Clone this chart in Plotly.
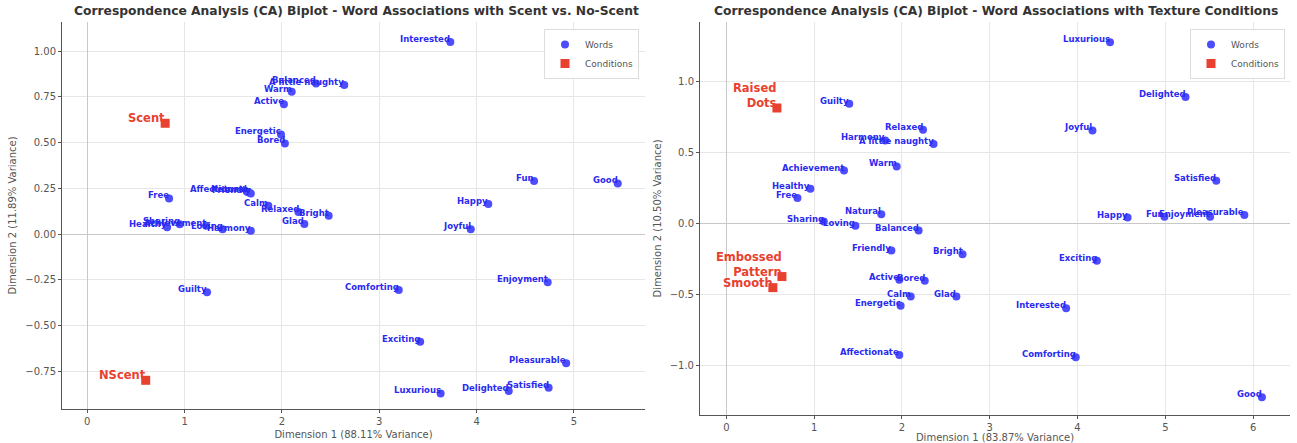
import plotly.graph_objects as go

# ---- Scent vs. No-Scent ----
scent_words = ["Interested", "Fun", "Good", "Happy", "Joyful", "Enjoyment", "Comforting",
               "Exciting", "Pleasurable", "Luxurious", "Delighted", "Satisfied", "Guilty",
               "Warm", "Active", "Energetic", "Bored", "A little naughty", "Balanced", "Free",
               "Affectionate", "Natural", "Friendly", "Calm", "Relaxed", "Bright", "Glad",
               "Healthy", "Sharing", "Achievement", "Loving", "Harmony"]
scent_x = [3.73, 4.59, 5.45, 4.12, 3.94, 4.73, 3.20,
           3.42, 4.92, 3.63, 4.33, 4.74, 1.23,
           2.10, 2.02, 1.99, 2.03, 2.64, 2.35, 0.84,
           1.66, 1.64, 1.68, 1.86, 2.17, 2.48, 2.23,
           0.82, 0.95, 1.22, 1.39, 1.68]
scent_y = [1.05, 0.29, 0.277, 0.164, 0.026, -0.264, -0.306,
           -0.589, -0.707, -0.872, -0.859, -0.841, -0.319,
           0.778, 0.71, 0.545, 0.496, 0.815, 0.824, 0.195,
           0.228, 0.232, 0.222, 0.155, 0.12, 0.10, 0.055,
           0.037, 0.053, 0.045, 0.026, 0.018]
scent_conditions = ["Scent", "NScent"]
scent_cond_x = [0.80, 0.60]
scent_cond_y = [0.606, -0.80]

# ---- Texture conditions ----
texture_words = ["Luxurious", "Delighted", "Joyful", "Satisfied", "Happy", "Fun", "Enjoyment",
                 "Pleasurable", "Good", "Exciting", "Interested", "Comforting", "Guilty",
                 "Relaxed", "A little naughty", "Harmony", "Achievement", "Warm", "Healthy",
                 "Free", "Natural", "Sharing", "Loving", "Balanced", "Friendly", "Bright",
                 "Active", "Bored", "Calm", "Glad", "Energetic", "Affectionate"]
texture_x = [4.37, 5.23, 4.17, 5.58, 4.57, 4.99, 5.51,
             5.90, 6.10, 4.22, 3.87, 3.98, 1.40,
             2.24, 2.36, 1.81, 1.34, 1.94, 0.957,
             0.81, 1.765, 1.11, 1.47, 2.19, 1.88, 2.69,
             1.97, 2.26, 2.10, 2.62, 1.985, 1.97]
texture_y = [1.277, 0.892, 0.657, 0.303, 0.044, 0.05, 0.05,
             0.063, -1.22, -0.26, -0.594, -0.939, 0.845,
             0.662, 0.561, 0.587, 0.375, 0.404, 0.246,
             0.181, 0.068, 0.016, -0.014, -0.047, -0.188, -0.214,
             -0.394, -0.401, -0.512, -0.512, -0.577, -0.923]
texture_conditions = ["Raised<br>Dots", "Embossed<br>Pattern", "Smooth"]
texture_cond_x = [0.576, 0.633, 0.53]
texture_cond_y = [0.815, -0.371, -0.449]

BLUE_MARK = "#4d4dff"
BLUE_TEXT = "#2a2af0"
RED = "#e8412f"
FONT = "DejaVu Sans"
W, H = 1297, 443

fig = go.Figure()


def add_panel(words, wx, wy, conds, cx, cy, xa, ya, legend):
    fig.add_trace(go.Scatter(
        x=wx, y=wy, mode="markers", name="Words", xaxis=xa, yaxis=ya, legend=legend,
        marker=dict(color=BLUE_MARK, size=8, symbol="circle", line=dict(width=0)),
        hoverinfo="skip"))
    fig.add_trace(go.Scatter(
        x=cx, y=cy, mode="markers", name="Conditions", xaxis=xa, yaxis=ya, legend=legend,
        marker=dict(color=RED, size=9, symbol="square", line=dict(width=0)),
        hoverinfo="skip"))
    for t, x, y in zip(words, wx, wy):
        fig.add_annotation(x=x, y=y, xref=xa, yref=ya, text=t, showarrow=False,
                           xanchor="right", yanchor="bottom", borderpad=0,
                           xshift=1, yshift=-3,
                           font=dict(family=FONT, size=8.5, color=BLUE_TEXT, weight="bold"))
    for t, x, y in zip(conds, cx, cy):
        fig.add_annotation(x=x, y=y, xref=xa, yref=ya, text=t, showarrow=False,
                           xanchor="right", yanchor="bottom", align="right", borderpad=0,
                           xshift=1, yshift=-3,
                           font=dict(family=FONT, size=11.5, color=RED, weight="bold"))


add_panel(scent_words, scent_x, scent_y, scent_conditions, scent_cond_x, scent_cond_y,
          "x", "y", "legend")
add_panel(texture_words, texture_x, texture_y, texture_conditions, texture_cond_x,
          texture_cond_y, "x2", "y2", "legend2")

axis_common = dict(
    showgrid=True, gridcolor="#e6e6e6", gridwidth=1,
    zeroline=True, zerolinecolor="#c8c8c8", zerolinewidth=1,
    showline=True, linecolor="#555555", linewidth=1, mirror=False,
    ticks="outside", ticklen=3, tickcolor="#555555",
    tickfont=dict(family=FONT, size=10, color="#555555"),
)

legend_common = dict(
    xanchor="right", yanchor="top",
    bgcolor="rgba(255,255,255,0.9)", bordercolor="#dddddd", borderwidth=1,
    font=dict(family=FONT, size=9, color="#555555"),
    itemsizing="trace", tracegroupgap=0, itemwidth=30,
)

fig.update_layout(
    width=W, height=H,
    margin=dict(l=0, r=0, t=0, b=0),
    paper_bgcolor="white", plot_bgcolor="white",
    font=dict(family=FONT),
    xaxis=dict(domain=[62 / W, 645 / W], range=[-0.26, 5.73], anchor="y",
               tickvals=[0, 1, 2, 3, 4, 5],
               title=dict(text="Dimension 1 (88.11% Variance)", standoff=4,
                          font=dict(family=FONT, size=10, color="#555555")),
               **axis_common),
    yaxis=dict(domain=[1 - 409 / H, 1 - 22 / H], range=[-0.957, 1.16], anchor="x",
               tickvals=[-0.75, -0.5, -0.25, 0, 0.25, 0.5, 0.75, 1.0], tickformat=".2f",
               title=dict(text="Dimension 2 (11.89% Variance)", standoff=6,
                          font=dict(family=FONT, size=10, color="#555555")),
               **axis_common),
    xaxis2=dict(domain=[700 / W, 1290 / W], range=[-0.30, 6.42], anchor="y2",
                tickvals=[0, 1, 2, 3, 4, 5, 6],
                title=dict(text="Dimension 1 (83.87% Variance)", standoff=4,
                           font=dict(family=FONT, size=10, color="#555555")),
                **axis_common),
    yaxis2=dict(domain=[1 - 415 / H, 1 - 22 / H], range=[-1.345, 1.42], anchor="x2",
                tickvals=[-1.0, -0.5, 0, 0.5, 1.0], tickformat=".1f",
                title=dict(text="Dimension 2 (10.50% Variance)", standoff=6,
                           font=dict(family=FONT, size=10, color="#555555")),
                **axis_common),
    legend=dict(x=639 / W, y=1 - 29 / H, **legend_common),
    legend2=dict(x=1285 / W, y=1 - 29 / H, **legend_common),
    showlegend=True,
)

fig.add_annotation(x=356 / W, y=1 - 11 / H, xref="paper", yref="paper", showarrow=False,
                   xanchor="center", yanchor="middle",
                   text="Correspondence Analysis (CA) Biplot - Word Associations with Scent vs. No-Scent",
                   font=dict(family=FONT, size=12.3, color="#333333", weight="bold"))
fig.add_annotation(x=996 / W, y=1 - 11 / H, xref="paper", yref="paper", showarrow=False,
                   xanchor="center", yanchor="middle",
                   text="Correspondence Analysis (CA) Biplot - Word Associations with Texture Conditions",
                   font=dict(family=FONT, size=12.3, color="#333333", weight="bold"))

fig.write_html("out.html")
